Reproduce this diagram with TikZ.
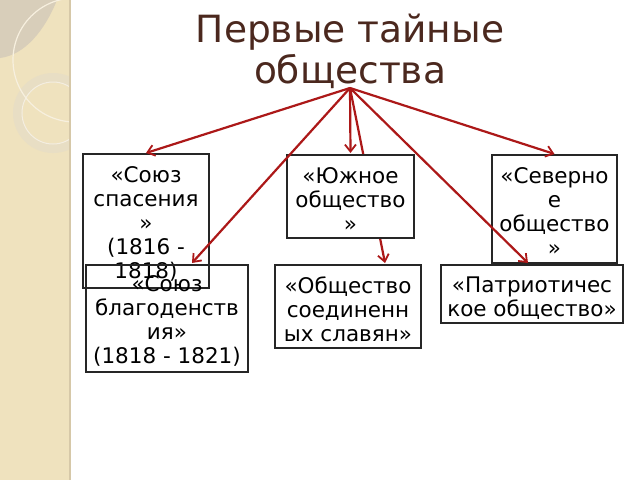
\documentclass[tikz,border=0pt]{standalone}
\usepackage{fontspec}
\setmainfont{DejaVu Sans}
\usetikzlibrary{arrows.meta,calc}
\definecolor{stripcol}{RGB}{239,226,190}
\definecolor{stripline}{RGB}{214,200,168}
\definecolor{lenscol}{RGB}{216,206,186}
\definecolor{ringcol}{RGB}{232,222,196}
\definecolor{titlecol}{RGB}{75,40,30}
\definecolor{arrcol}{RGB}{172,24,24}
\tikzset{
  box/.style={draw=black!85, line width=1.3pt, inner sep=0pt, outer sep=0pt},
  wbox/.style={box, fill=white},
  boxtext/.style={anchor=north, inner sep=0pt, align=center, yshift=-12pt,
    font=\fontsize{21.5}{24}\selectfont},
  titletext/.style={anchor=base, inner sep=0pt, text=titlecol,
    font=\fontsize{37.5}{42}\selectfont},
  conn/.style={draw=arrcol, line width=2.2pt, -{Straight Barb[length=7pt,width=11pt,line width=1.8pt]}}
}
\begin{document}
\begin{tikzpicture}[x=1pt,y=-1pt]
\useasboundingbox (0,0) rectangle (640,480);
\fill[white] (0,0) rectangle (640,480);
% left decorative strip
\fill[stripcol] (0,0) rectangle (69,480);
\begin{scope}
  \clip (0,0) rectangle (69,480);
  \fill[lenscol] (0,0) -- (57,0) .. controls (45,30) and (25,55) .. (0,58) -- cycle;
  \fill[ringcol, even odd rule] (53,113) circle (40) (53,113) circle (31);
  \draw[white!50!ringcol, line width=1pt] (53,113) circle (31);
  \draw[white!50!stripcol, line width=1.2pt] (75,60) circle (62);
\end{scope}
\fill[stripline] (68.5,0) rectangle (71,480);

% title
\node[titletext] (title1) at (350,42) {Первые тайные};
\node[titletext] (title2) at (350,83) {общества};
\coordinate (hub) at (350,88);

% boxes without fill
\node[box, minimum width=126pt, minimum height=134pt] (b1) at (146,221) {};
\node[boxtext] (t1) at (b1.north) {«Союз\\спасения\\»\\(1816 -\\1818)};
\node[box, minimum width=162pt, minimum height=107pt] (b2) at (167,318.5) {};
\node[boxtext, yshift=2pt] (t2) at (b2.north) {«Союз\\благоденств\\ия»\\(1818 - 1821)};

% arrow hidden behind the south society box
\node[wbox, minimum width=146pt, minimum height=83pt] (b4) at (348,306.5) {};
\draw[conn] (hub) -- ([xshift=37pt,yshift=2pt]b4.north);

\node[wbox, minimum width=127pt, minimum height=83pt] (b3) at (350.5,196.5) {};
\node[boxtext] (t3) at (b3.north) {«Южное\\общество\\»};
\node[boxtext] (t4) at (b4.north) {«Общество\\соединенн\\ых славян»};
\node[wbox, minimum width=125pt, minimum height=108pt] (b5) at (554.5,209) {};
\node[boxtext] (t5) at (b5.north) {«Северно\\е\\общество\\»};
\node[wbox, minimum width=182pt, minimum height=58pt] (b6) at (532,294) {};
\node[boxtext] (t6) at (b6.north) {«Патриотичес\\кое общество»};

% connectors
\draw[conn] (hub) -- ([yshift=1pt]b1.north);
\draw[conn] (hub) -- ([xshift=106pt,yshift=2pt]b2.north west);
\draw[conn] (hub) -- ([yshift=2pt]b3.north);
\draw[conn] (hub) -- ([yshift=1pt]b5.north);
\draw[conn] (hub) -- ([xshift=-4pt,yshift=2pt]b6.north);
\end{tikzpicture}
\end{document}
